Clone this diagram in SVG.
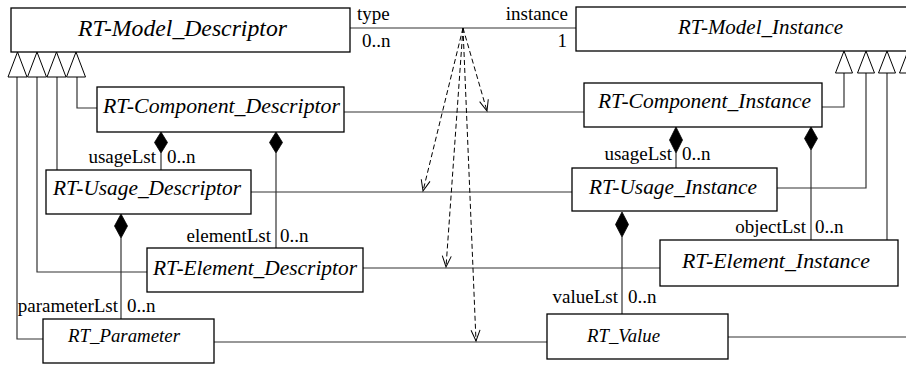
<svg xmlns="http://www.w3.org/2000/svg" width="906" height="365" viewBox="0 0 906 365">
<defs>
<style>
.box{fill:#fff;stroke:#000;stroke-width:1.3}
.nm{font-family:'Liberation Serif','Times New Roman',serif;font-style:italic;fill:#000}
.lb{font-family:'Liberation Serif','Times New Roman',serif;font-size:19px;fill:#000}
.ln{fill:none;stroke:#333;stroke-width:1.2}
.gen{fill:#fff;stroke:#000;stroke-width:1}
.dia{fill:#000;stroke:#000;stroke-width:0.8}
.dash{fill:none;stroke:#000;stroke-width:1;stroke-dasharray:5,3;marker-end:url(#open)}
</style>
<marker id="open" markerUnits="userSpaceOnUse" markerWidth="14" markerHeight="12" viewBox="0 0 14 12" refX="12" refY="6" orient="auto">
<path d="M1,1.5 L12,6 L1,10.5" fill="none" stroke="#000" stroke-width="1" stroke-dasharray="none"/>
</marker>
</defs>
<rect width="906" height="365" fill="#fff"/>

<g id="connectors">
<path class="ln" d="M350,28 H576"/>
<path class="ln" d="M344,112 H584"/>
<path class="ln" d="M251,192 H572"/>
<path class="ln" d="M363,268 H660"/>
<path class="ln" d="M214,342 H547"/>
<path class="ln" d="M17,77 V339 H43"/>
<path class="ln" d="M37,77 V272 H147"/>
<path class="ln" d="M57,77 V170"/>
<path class="ln" d="M77,77 V108 H97"/>
<polygon class="gen" points="17.5,52 8,77 27,77"/>
<polygon class="gen" points="37,52 27.5,77 46.5,77"/>
<polygon class="gen" points="56.5,52 47,77 66,77"/>
<polygon class="gen" points="76,52 66.5,77 85.5,77"/>
<path class="ln" d="M844,73 V107 H822"/>
<path class="ln" d="M866,73 V188 H777"/>
<path class="ln" d="M887,73 V240"/>
<path class="ln" d="M908,73 V337 H728"/>
<polygon class="gen" points="844,51 835.5,73 852.5,73"/>
<polygon class="gen" points="866,51 857.5,73 874.5,73"/>
<polygon class="gen" points="887,51 878.5,73 895.5,73"/>
<polygon class="gen" points="908,51 899.5,73 916.5,73"/>
<path class="ln" d="M161,153 V170"/>
<path class="ln" d="M276,153 V248"/>
<path class="ln" d="M121,238 V319"/>
<path class="ln" d="M676,153 V168"/>
<path class="ln" d="M811,150 V240"/>
<path class="ln" d="M622,237 V314"/>
<polygon class="dia" points="161,132 167.5,142.5 161,153 154.5,142.5"/>
<polygon class="dia" points="276,132 282.5,142.5 276,153 269.5,142.5"/>
<polygon class="dia" points="121,214 127.5,226 121,238 114.5,226"/>
<polygon class="dia" points="676,127 682.5,140 676,153 669.5,140"/>
<polygon class="dia" points="811,127 817.5,138.5 811,150 804.5,138.5"/>
<polygon class="dia" points="622,212 628.5,224.5 622,237 615.5,224.5"/>
<path class="dash" d="M463,28 L487,111"/>
<path class="dash" d="M463,28 L423,191"/>
<path class="dash" d="M463,28 L446,267"/>
<path class="dash" d="M463,28 L476,341"/>
<text class="lb" x="357" y="20">type</text>
<text class="lb" x="362" y="47">0..n</text>
<text class="lb" x="568" y="20" text-anchor="end">instance</text>
<text class="lb" x="567" y="47" text-anchor="end">1</text>
<text class="lb" x="156" y="163" text-anchor="end">usageLst</text>
<text class="lb" x="167" y="163">0..n</text>
<text class="lb" x="271" y="242" text-anchor="end">elementLst</text>
<text class="lb" x="280" y="242">0..n</text>
<text class="lb" x="118" y="312" text-anchor="end">parameterLst</text>
<text class="lb" x="127" y="312">0..n</text>
<text class="lb" x="672" y="160" text-anchor="end">usageLst</text>
<text class="lb" x="682" y="160">0..n</text>
<text class="lb" x="806" y="233" text-anchor="end">objectLst</text>
<text class="lb" x="815" y="233">0..n</text>
<text class="lb" x="618" y="303" text-anchor="end">valueLst</text>
<text class="lb" x="628" y="303">0..n</text>
</g>

<g id="model-descriptor">
<rect class="box" x="11" y="8" width="339" height="44"/>
<text class="nm" x="78" y="36" font-size="23" textLength="209" lengthAdjust="spacingAndGlyphs">RT-Model_Descriptor</text>
</g>
<g id="model-instance">
<rect class="box" x="576" y="7" width="400" height="44"/>
<text class="nm" x="678" y="34" font-size="21" textLength="165" lengthAdjust="spacingAndGlyphs">RT-Model_Instance</text>
</g>
<g id="component-descriptor">
<rect class="box" x="97" y="87" width="247" height="45"/>
<text class="nm" x="103" y="113" font-size="21.5" textLength="237" lengthAdjust="spacingAndGlyphs">RT-Component_Descriptor</text>
</g>
<g id="component-instance">
<rect class="box" x="584" y="83" width="238" height="44"/>
<text class="nm" x="598" y="108" font-size="21" textLength="213" lengthAdjust="spacingAndGlyphs">RT-Component_Instance</text>
</g>
<g id="usage-descriptor">
<rect class="box" x="46" y="170" width="205" height="44"/>
<text class="nm" x="53" y="195" font-size="21" textLength="188" lengthAdjust="spacingAndGlyphs">RT-Usage_Descriptor</text>
</g>
<g id="usage-instance">
<rect class="box" x="572" y="168" width="205" height="43"/>
<text class="nm" x="589" y="194" font-size="21" textLength="168" lengthAdjust="spacingAndGlyphs">RT-Usage_Instance</text>
</g>
<g id="element-descriptor">
<rect class="box" x="147" y="248" width="216" height="44"/>
<text class="nm" x="153" y="275" font-size="21" textLength="204" lengthAdjust="spacingAndGlyphs">RT-Element_Descriptor</text>
</g>
<g id="element-instance">
<rect class="box" x="660" y="240" width="238" height="46"/>
<text class="nm" x="682" y="268" font-size="21.5" textLength="188" lengthAdjust="spacingAndGlyphs">RT-Element_Instance</text>
</g>
<g id="rt-parameter">
<rect class="box" x="43" y="319" width="171" height="44"/>
<text class="nm" x="68" y="342" font-size="18.5" textLength="112" lengthAdjust="spacingAndGlyphs">RT_Parameter</text>
</g>
<g id="rt-value">
<rect class="box" x="547" y="314" width="181" height="45"/>
<text class="nm" x="587" y="342" font-size="18.3" textLength="73" lengthAdjust="spacingAndGlyphs">RT_Value</text>
</g>
</svg>
